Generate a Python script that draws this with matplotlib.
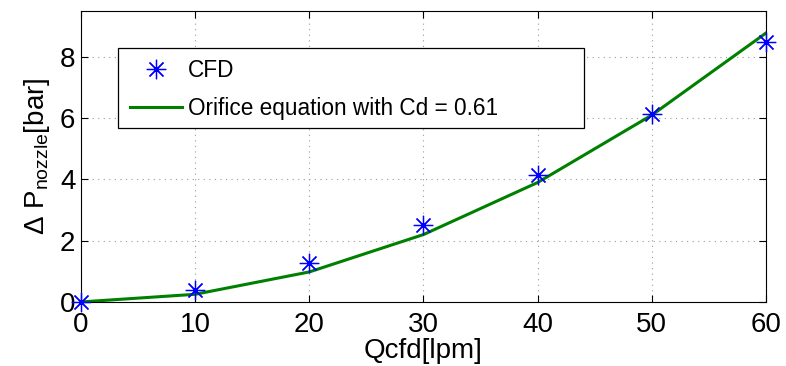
import matplotlib
matplotlib.use("Agg")
from matplotlib import pyplot as plt
from matplotlib.patches import Rectangle

q = [0, 10, 20, 30, 40, 50, 60]
dp_cfd = [0.0, 0.38, 1.27, 2.52, 4.15, 6.15, 8.5]
dp_orifice = [0.0, 0.25, 0.98, 2.2, 3.9, 6.1, 8.78]

plt.rcParams["font.family"] = ["Liberation Sans", "DejaVu Sans"]
plt.rcParams["mathtext.default"] = "regular"

fig = plt.figure(figsize=(7.86, 3.66), dpi=100)
ax = fig.add_axes([0.103, 0.175, 0.8715, 0.795])

ax.plot(q, dp_cfd, linestyle="none", marker=(8, 2, 0), markersize=14,
        markeredgewidth=0.9, color="#0000ff", label="CFD", clip_on=False, zorder=3)
ax.plot(q, dp_orifice, "-", color="#008000", linewidth=2.2,
        label="Orifice equation with Cd = 0.61", zorder=2)

ax.set_xlim(0, 60)
ax.set_ylim(0, 9.5)
ax.set_xticks([0, 10, 20, 30, 40, 50, 60])
ax.set_yticks([0, 2, 4, 6, 8])
ax.tick_params(direction="in", top=True, right=True, labelsize=20, length=5)
ax.tick_params(axis="x", pad=7)
ax.tick_params(axis="y", pad=4)
ax.grid(True, linestyle=(0, (1, 4)), color="#999999", linewidth=0.8)
for s in ax.spines.values():
    s.set_linewidth(0.8)

ax.set_xlabel("Qcfd[lpm]", fontsize=20, labelpad=0)
ax.set_ylabel("Δ P$_{nozzle}$[bar]", fontsize=20, labelpad=6)

# legend box, drawn MATLAB-like (wide frame)
ax.add_patch(Rectangle((0.054, 0.598), 0.68, 0.275, transform=ax.transAxes,
                       facecolor="white", edgecolor="black", linewidth=0.9, zorder=4))
leg = ax.legend(loc="upper left", bbox_to_anchor=(0.0715, 0.835), fontsize=16.3,
                frameon=False, borderaxespad=0, borderpad=0, handlelength=2.3,
                handletextpad=0.25, labelspacing=0.68)
leg.set_zorder(5)

fig.savefig("out.png", dpi=100)
